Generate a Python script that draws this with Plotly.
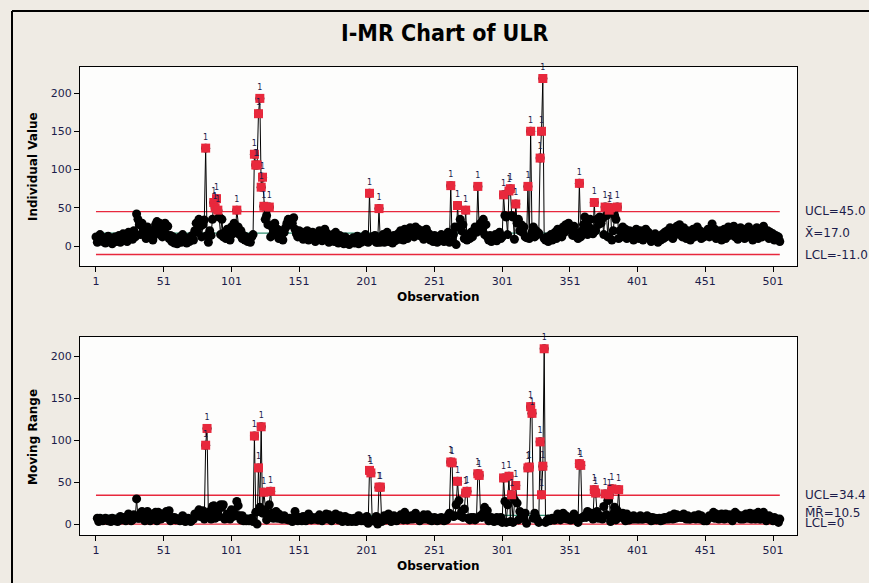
import plotly.graph_objects as go

# Individual ULR values (observation 1..506)
ulr_values = [
    12, 5, 8, 15, 10, 6, 11, 4, 9, 13,
    7, 10, 3, 8, 12, 6, 9, 14, 5, 10,
    16, 8, 12, 6, 18, 10, 14, 9, 20, 12,
    42, 35, 28, 15, 30, 22, 18, 10, 25, 16,
    12, 20, 8, 14, 28, 32, 18, 30, 24, 12,
    22, 30, 15, 26, 10, 14, 6, 12, 4, 9,
    3, 8, 12, 5, 15, 7, 10, 4, 11, 6,
    9, 14, 8, 20, 30, 18, 35, 26, 12, 28,
    34, 128, 14, 5, 20, 14, 35, 57, 50, 62,
    47, 38, 15, 35, 12, 18, 10, 22, 14, 8,
    25, 16, 30, 20, 47, 25, 15, 20, 10, 14,
    8, 12, 6, 10, 5, 12, 15, 120, 106, 106,
    173, 193, 77, 90, 52, 35, 40, 28, 51, 12,
    25, 18, 30, 15, 22, 10, 20, 14, 8, 18,
    24, 30, 35, 28, 33, 30, 37, 22, 16, 12,
    20, 14, 18, 9, 16, 12, 20, 8, 15, 10,
    18, 12, 6, 14, 9, 20, 11, 7, 13, 22,
    10, 16, 5, 12, 8, 15, 6, 18, 9, 4,
    14, 7, 10, 3, 12, 6, 9, 2, 8, 5,
    11, 4, 7, 13, 3, 9, 5, 12, 8, 15,
    6, 5, 69, 8, 12, 8, 14, 5, 5, 49,
    5, 8, 15, 5, 10, 18, 6, 12, 9, 4,
    14, 7, 11, 16, 9, 20, 13, 8, 22, 15,
    10, 18, 24, 14, 20, 12, 25, 16, 22, 18,
    13, 20, 9, 15, 22, 11, 16, 8, 12, 6,
    14, 9, 5, 12, 7, 15, 10, 6, 13, 8,
    18, 5, 79, 6, 15, 25, 2, 53, 25, 35,
    20, 28, 10, 47, 8, 15, 10, 18, 12, 20,
    25, 18, 78, 20, 30, 22, 35, 15, 28, 12,
    8, 14, 6, 12, 9, 15, 7, 11, 18, 10,
    12, 67, 40, 38, 15, 72, 75, 40, 38, 9,
    55, 30, 35, 20, 28, 18, 25, 12, 11, 78,
    10, 150, 18, 25, 12, 20, 15, 17, 115, 150,
    219, 10, 8, 12, 6, 10, 15, 8, 13, 18,
    10, 22, 15, 20, 12, 25, 18, 28, 22, 30,
    25, 20, 14, 26, 18, 12, 10, 82, 12, 20,
    28, 38, 30, 15, 25, 35, 22, 16, 57, 20,
    35, 28, 38, 30, 36, 15, 51, 40, 12, 47,
    50, 8, 20, 40, 35, 51, 10, 20, 12, 25,
    18, 22, 10, 15, 20, 12, 18, 8, 14, 22,
    16, 10, 20, 14, 8, 15, 22, 12, 18, 10,
    6, 14, 9, 16, 11, 5, 12, 8, 15, 10,
    18, 12, 20, 14, 24, 16, 10, 22, 15, 26,
    18, 28, 20, 12, 24, 16, 10, 20, 14, 8,
    15, 22, 12, 18, 25, 14, 20, 10, 16, 12,
    18, 14, 22, 12, 20, 29, 15, 22, 10, 18,
    12, 20, 8, 16, 22, 10, 18, 25, 14, 20,
    16, 26, 12, 20, 9, 18, 24, 14, 20, 10,
    22, 15, 25, 12, 18, 8, 20, 14, 24, 10,
    16, 22, 12, 26, 18, 14, 20, 10, 18, 12,
    16, 8, 14, 10, 12, 6,
]
observations = list(range(1, len(ulr_values) + 1))

ind_ucl, ind_mean, ind_lcl = 45.0, 17.0, -11.0
mr_ucl, mr_mean, mr_lcl = 34.4, 10.5, 0.0

x_tick_vals = [1, 51, 101, 151, 201, 251, 301, 351, 401, 451, 501]
y_tick_vals = [0, 50, 100, 150, 200]

# moving range derived from the individual values
moving_range = [abs(b - a) for a, b in zip(ulr_values[:-1], ulr_values[1:])]
mr_obs = observations[1:]

W, H = 869, 583
ML, MR_, MT, MB = 80, 72, 67, 48
PW, PH = W - ML - MR_, H - MT - MB


def px(x):
    return (x - ML) / PW


def py(y):
    return (H - MB - y) / PH


RED = "#e8283c"
GREEN = "#2f8f70"
LABEL = "#1c1c4a"
PT = 9

fig = go.Figure()


def add_chart(xs, ys, ucl, cl, lcl, xa, ya):
    x1 = observations[-1]
    for val, col in ((ucl, RED), (cl, GREEN), (lcl, RED)):
        fig.add_trace(go.Scatter(x=[1, x1], y=[val, val], mode="lines",
                                 line=dict(color=col, width=1.3),
                                 xaxis=xa, yaxis=ya, hoverinfo="skip"))
    fig.add_trace(go.Scatter(x=xs, y=ys, mode="lines+markers",
                             line=dict(color="black", width=1),
                             marker=dict(symbol="circle", size=PT, color="black"),
                             xaxis=xa, yaxis=ya))
    rx = [x for x, y in zip(xs, ys) if y > ucl]
    ry = [y for y in ys if y > ucl]
    fig.add_trace(go.Scatter(x=rx, y=ry, mode="markers+text",
                             marker=dict(symbol="square", size=PT, color=RED),
                             text=["1"] * len(rx), textposition="top center",
                             textfont=dict(family="DejaVu Sans", size=8, color=LABEL),
                             xaxis=xa, yaxis=ya, cliponaxis=False))


add_chart(observations, ulr_values, ind_ucl, ind_mean, ind_lcl, "x", "y")
add_chart(mr_obs, moving_range, mr_ucl, mr_mean, mr_lcl, "x2", "y2")

axis_common = dict(showline=True, linecolor="black", linewidth=1.2, mirror=True,
                   ticks="outside", ticklen=5, tickcolor="black", showgrid=False,
                   zeroline=False,
                   tickfont=dict(family="DejaVu Sans", size=11, color=LABEL))

fig.update_layout(
    width=W, height=H,
    margin=dict(l=ML, r=MR_, t=MT, b=MB),
    paper_bgcolor="#efebe4",
    plot_bgcolor="#fdfdfc",
    showlegend=False,
    xaxis=dict(domain=[0, 1], anchor="y", range=[-10.8, 518.7],
               tickvals=x_tick_vals, **axis_common),
    yaxis=dict(domain=[py(266), 1], anchor="x", range=[-26, 234],
               tickvals=y_tick_vals, **axis_common),
    xaxis2=dict(domain=[0, 1], anchor="y2", range=[-10.8, 518.7],
                tickvals=x_tick_vals, **axis_common),
    yaxis2=dict(domain=[0, py(337)], anchor="x2", range=[-13, 223],
                tickvals=y_tick_vals, **axis_common),
)

ann = []


def add_text(text, x, y, size, bold=False, family="DejaVu Sans", angle=0,
             xanchor="center", color="black"):
    ann.append(dict(text=f"<b>{text}</b>" if bold else text,
                    x=px(x), y=py(y), xref="paper", yref="paper",
                    showarrow=False, xanchor=xanchor, yanchor="middle",
                    textangle=angle,
                    font=dict(family=family, size=size, color=color)))


add_text("I-MR Chart of ULR", 445, 33, 23, bold=True,
         family="DejaVu Sans Condensed, Liberation Sans Narrow, Roboto, sans-serif")
add_text("Observation", 438, 297, 12, bold=True)
add_text("Observation", 438, 566, 12, bold=True)
add_text("Individual Value", 33, 167, 12, bold=True, angle=-90)
add_text("Moving Range", 33, 437, 12, bold=True, angle=-90)

add_text("UCL=45.0", 803, 211, 12, xanchor="left", color=LABEL)
add_text("X\u0304=17.0", 803, 233, 12, xanchor="left", color=LABEL)
add_text("LCL=-11.0", 803, 255, 12, xanchor="left", color=LABEL)
add_text("UCL=34.4", 803, 495, 12, xanchor="left", color=LABEL)
add_text("M\u0304R\u0304=10.5", 803, 513, 12, xanchor="left", color=LABEL)
add_text("LCL=0", 803, 523, 12, xanchor="left", color=LABEL)

fig.update_layout(annotations=ann)

# outer frame lines (left and top)
fig.add_shape(type="line", xref="paper", yref="paper",
              x0=px(12), x1=px(869), y0=py(11), y1=py(11),
              line=dict(color="black", width=2))
fig.add_shape(type="line", xref="paper", yref="paper",
              x0=px(12), x1=px(12), y0=py(11), y1=py(583),
              line=dict(color="black", width=2))

fig.write_html(
    "out.html",
    config={"displayModeBar": False},
    post_script="document.body.style.margin='0';document.body.style.overflow='hidden';",
)
